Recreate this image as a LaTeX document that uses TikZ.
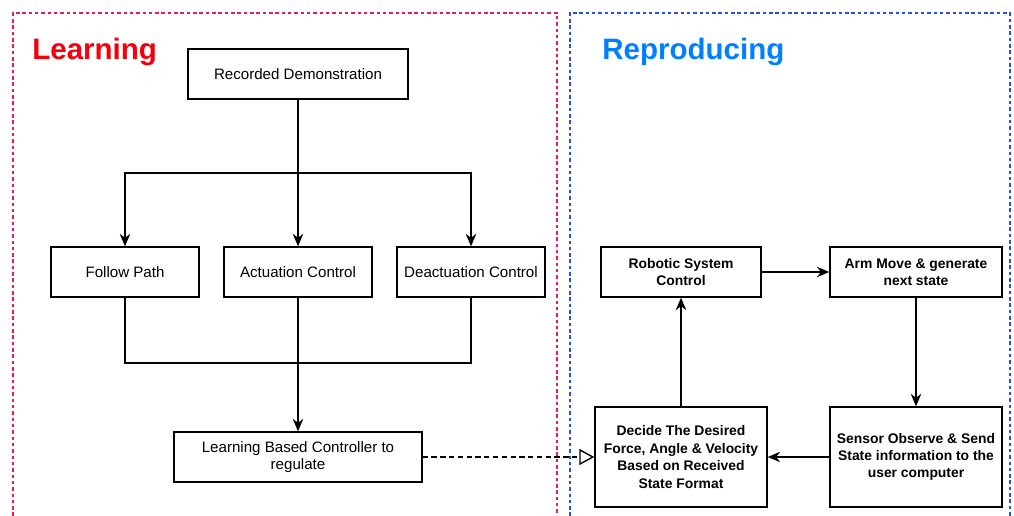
\documentclass[tikz,border=0pt]{standalone}
\usepackage{fontspec}
\setmainfont{Liberation Sans}
\usetikzlibrary{arrows.meta}

\definecolor{learnred}{RGB}{245,0,10}
\definecolor{learnframe}{RGB}{225,30,90}
\definecolor{reproblue}{RGB}{0,128,255}
\definecolor{reproframe}{RGB}{40,80,220}

\tikzset{
	box/.style={draw=black, line width=0.8pt, fill=white, align=center,
		inner sep=2pt, font=\fontsize{8.6}{9.8}\selectfont},
	boldbox/.style={box, font=\fontsize{7.9}{9.9}\selectfont\bfseries},
	line/.style={line width=0.8pt},
	conn/.style={line, -{Stealth[length=0.25cm, width=0.21cm]}},
	framebox/.style={line width=0.8pt, dash pattern=on 2pt off 1.6pt},
	heading/.style={font=\fontsize{16.8}{18}\selectfont\bfseries, inner sep=0pt,
		anchor=base west}
}

\begin{document}
\begin{tikzpicture}[x=0.02cm, y=-0.02cm]
	\useasboundingbox (0,0) rectangle (1014,516);

	% Rahmen
	\draw[framebox, draw=learnframe] (13,516) -- (13,13) -- (557,13) -- (557,516);
	\draw[framebox, draw=reproframe] (570,516) -- (570,13) -- (1010,13) -- (1010,516);
	\node[heading, text=learnred] (learning) at (32,60) {Learning};
	\node[heading, text=reproblue] (reproducing) at (602,60) {Reproducing};

	% Lernteil
	\node[box, minimum width=4.4cm, minimum height=1cm] (rec) at (298,74)
	{Recorded Demonstration};
	\node[box, minimum width=2.96cm, minimum height=1cm] (follow) at (125,272)
	{Follow Path};
	\node[box, minimum width=2.96cm, minimum height=1cm] (act) at (298,272)
	{Actuation Control};
	\node[box, minimum width=2.96cm, minimum height=1cm] (deact) at (471,272)
	{Deactuation Control};
	\node[box, minimum width=4.96cm, minimum height=1cm] (lbc) at (298,457)
	{Learning Based Controller to\\regulate};

	\coordinate (split) at (298,173);
	\coordinate (merge) at (298,363);
	\draw[line] (rec) -- (split);
	\draw[conn] (split) -| (follow);
	\draw[conn] (split) -- (act);
	\draw[conn] (split) -| (deact);
	\draw[line] (follow) |- (merge);
	\draw[line] (deact) |- (merge);
	\draw[conn] (act) -- (lbc);

	% Reproduktionsteil
	\node[boldbox, minimum width=3.2cm, minimum height=1cm] (robot) at (681,272)
	{Robotic System\\Control};
	\node[boldbox, minimum width=3.44cm, minimum height=1cm] (arm) at (916,272)
	{Arm Move \& generate\\next state};
	\node[boldbox, minimum width=3.44cm, minimum height=2cm] (decide) at (681,457)
	{Decide The Desired\\Force, Angle \& Velocity\\Based on Received\\State Format};
	\node[boldbox, minimum width=3.44cm, minimum height=2cm] (sensor) at (916,457)
	{Sensor Observe \& Send\\State information to the\\user computer};

	\draw[conn] (robot) -- (arm);
	\draw[conn] (arm) -- (sensor);
	\draw[conn] (sensor) -- (decide);
	\draw[conn] (decide) -- (robot);

	% Uebergabe
	\draw[line, dash pattern=on 3pt off 2pt,
		-{Triangle[open, length=0.3cm, width=0.32cm]}] (lbc) -- (decide);
\end{tikzpicture}
\end{document}
